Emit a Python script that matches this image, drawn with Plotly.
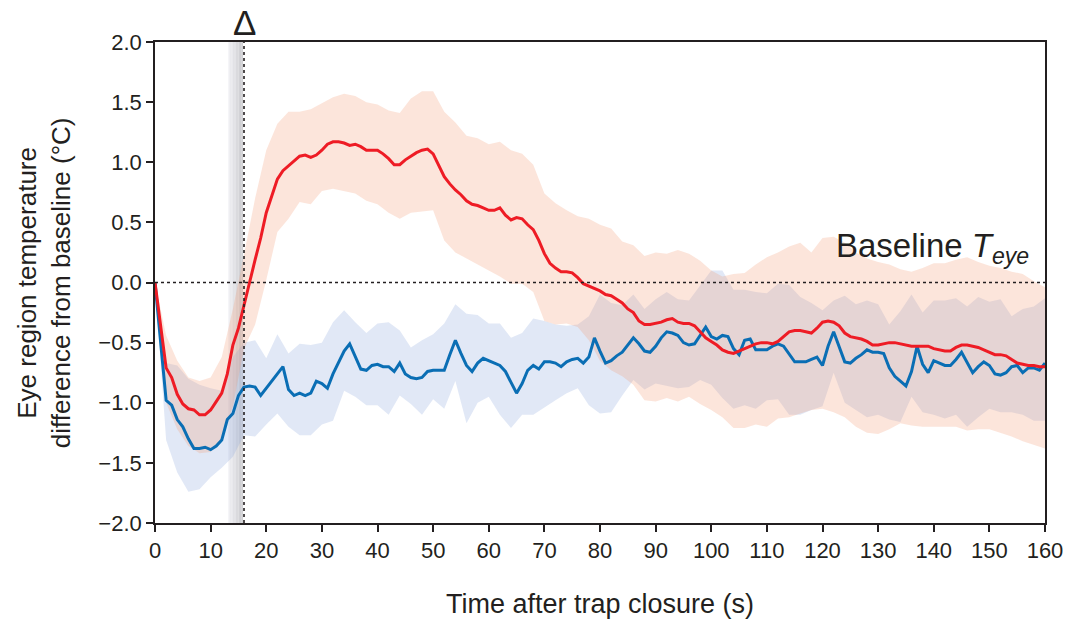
import plotly.graph_objects as go

# ---- data ----
t_line = list(range(0, 161))
red_mean = [0.00, -0.38, -0.71, -0.79, -0.93, -1.01, -1.05, -1.06, -1.10, -1.10,
            -1.06, -0.99, -0.92, -0.76, -0.52, -0.38, -0.20, 0.00, 0.19, 0.37,
            0.58, 0.72, 0.86, 0.93, 0.97, 1.01, 1.05, 1.06, 1.04, 1.06,
            1.10, 1.15, 1.17, 1.17, 1.16, 1.14, 1.15, 1.13, 1.10, 1.10,
            1.10, 1.07, 1.03, 0.98, 0.98, 1.02, 1.05, 1.08, 1.10, 1.11,
            1.07, 0.97, 0.88, 0.82, 0.77, 0.73, 0.68, 0.65, 0.64, 0.62,
            0.60, 0.60, 0.62, 0.56, 0.52, 0.54, 0.53, 0.48, 0.44, 0.35,
            0.24, 0.16, 0.12, 0.09, 0.09, 0.08, 0.04, -0.01, -0.03, -0.05,
            -0.07, -0.10, -0.11, -0.14, -0.17, -0.22, -0.25, -0.32, -0.35, -0.35,
            -0.34, -0.33, -0.31, -0.30, -0.33, -0.34, -0.34, -0.36, -0.41, -0.46,
            -0.49, -0.52, -0.56, -0.58, -0.59, -0.57, -0.55, -0.53, -0.51, -0.50,
            -0.50, -0.51, -0.49, -0.45, -0.41, -0.40, -0.40, -0.41, -0.42, -0.38,
            -0.33, -0.32, -0.33, -0.36, -0.42, -0.45, -0.46, -0.47, -0.49, -0.52,
            -0.52, -0.51, -0.50, -0.50, -0.51, -0.52, -0.53, -0.53, -0.53, -0.53,
            -0.55, -0.56, -0.57, -0.57, -0.54, -0.52, -0.52, -0.53, -0.54, -0.56,
            -0.58, -0.60, -0.60, -0.61, -0.64, -0.67, -0.68, -0.69, -0.69, -0.70,
            -0.70]
blue_mean = [0.00, -0.52, -0.98, -1.02, -1.14, -1.20, -1.30, -1.38, -1.38, -1.37,
             -1.39, -1.36, -1.31, -1.14, -1.09, -0.94, -0.87, -0.86, -0.87, -0.94,
             -0.88, -0.83, -0.77, -0.70, -0.89, -0.94, -0.92, -0.94, -0.92, -0.82,
             -0.84, -0.88, -0.76, -0.67, -0.57, -0.51, -0.62, -0.72, -0.73, -0.69,
             -0.68, -0.70, -0.70, -0.74, -0.67, -0.76, -0.79, -0.80, -0.79, -0.74,
             -0.73, -0.73, -0.73, -0.60, -0.48, -0.59, -0.69, -0.74, -0.67, -0.63,
             -0.65, -0.67, -0.69, -0.74, -0.83, -0.92, -0.84, -0.73, -0.69, -0.72,
             -0.66, -0.66, -0.67, -0.70, -0.66, -0.64, -0.63, -0.67, -0.62, -0.46,
             -0.57, -0.67, -0.65, -0.61, -0.58, -0.52, -0.46, -0.51, -0.57, -0.58,
             -0.53, -0.46, -0.41, -0.42, -0.44, -0.50, -0.52, -0.51, -0.44, -0.37,
             -0.45, -0.47, -0.44, -0.45, -0.55, -0.60, -0.48, -0.47, -0.56, -0.56,
             -0.56, -0.53, -0.51, -0.53, -0.60, -0.66, -0.66, -0.66, -0.64, -0.62,
             -0.69, -0.53, -0.41, -0.53, -0.66, -0.67, -0.63, -0.60, -0.56, -0.58,
             -0.58, -0.59, -0.71, -0.78, -0.82, -0.86, -0.74, -0.53, -0.68, -0.75,
             -0.65, -0.67, -0.69, -0.69, -0.64, -0.58, -0.67, -0.75, -0.70, -0.66,
             -0.69, -0.76, -0.77, -0.75, -0.70, -0.69, -0.75, -0.71, -0.71, -0.73,
             -0.67]

t_band = list(range(0, 161, 2))
red_upper = [0.00, -0.44, -0.65, -0.79, -0.82, -0.79, -0.62, -0.22, 0.23, 0.70,
             1.10, 1.32, 1.42, 1.42, 1.44, 1.49, 1.54, 1.57, 1.55, 1.50,
             1.48, 1.43, 1.41, 1.53, 1.59, 1.59, 1.42, 1.33, 1.22, 1.20,
             1.15, 1.17, 1.10, 1.07, 0.98, 0.74, 0.66, 0.60, 0.55, 0.53,
             0.48, 0.45, 0.34, 0.31, 0.22, 0.25, 0.24, 0.27, 0.24, 0.18,
             0.10, 0.05, 0.07, 0.08, 0.15, 0.21, 0.25, 0.30, 0.33, 0.25,
             0.37, 0.38, 0.33, 0.25, 0.20, 0.17, 0.15, 0.11, 0.09, 0.12,
             0.16, 0.16, 0.19, 0.21, 0.17, 0.14, 0.12, 0.09, 0.07, 0.01,
             -0.04]
red_lower = [0.00, -1.00, -1.22, -1.36, -1.42, -1.41, -1.30, -1.03, -0.55, -0.35,
             0.02, 0.42, 0.53, 0.67, 0.65, 0.76, 0.78, 0.76, 0.74, 0.68,
             0.65, 0.58, 0.53, 0.58, 0.59, 0.60, 0.35, 0.25, 0.20, 0.15,
             0.10, 0.05, -0.01, -0.01, -0.08, -0.32, -0.35, -0.34, -0.37, -0.48,
             -0.65, -0.73, -0.78, -0.85, -0.98, -0.99, -0.96, -0.99, -0.95, -1.01,
             -1.06, -1.12, -1.21, -1.21, -1.18, -1.20, -1.13, -1.12, -1.09, -1.06,
             -1.05, -1.08, -1.12, -1.20, -1.25, -1.26, -1.22, -1.17, -1.19, -1.20,
             -1.20, -1.20, -1.20, -1.23, -1.22, -1.22, -1.25, -1.28, -1.32, -1.35,
             -1.38]
blue_upper = [0.00, -0.67, -0.69, -0.80, -0.85, -0.88, -0.90, -0.62, -0.50, -0.48,
              -0.63, -0.43, -0.59, -0.51, -0.52, -0.50, -0.33, -0.23, -0.33, -0.42,
              -0.34, -0.33, -0.40, -0.54, -0.48, -0.43, -0.34, -0.18, -0.26, -0.27,
              -0.34, -0.34, -0.46, -0.42, -0.30, -0.32, -0.35, -0.36, -0.35, -0.28,
              -0.10, -0.17, -0.19, -0.10, -0.22, -0.14, -0.08, -0.14, -0.15, -0.03,
              0.10, 0.10, -0.06, -0.06, -0.08, -0.09, -0.01, -0.02, -0.12, -0.17,
              -0.23, -0.15, -0.11, -0.18, -0.15, -0.18, -0.35, -0.24, -0.10, -0.25,
              -0.15, -0.15, -0.13, -0.20, -0.12, -0.16, -0.14, -0.28, -0.22, -0.20,
              -0.13]
blue_lower = [0.00, -1.31, -1.58, -1.74, -1.72, -1.62, -1.54, -1.45, -1.27, -1.28,
              -1.18, -1.09, -1.20, -1.27, -1.27, -1.18, -1.15, -0.90, -0.95, -1.02,
              -1.02, -1.10, -0.94, -1.01, -1.10, -0.97, -1.05, -0.82, -1.17, -1.00,
              -0.95, -1.10, -1.21, -1.10, -1.10, -1.04, -0.98, -0.92, -0.88, -1.02,
              -1.09, -1.08, -0.94, -0.81, -0.89, -0.84, -0.86, -0.88, -0.87, -0.81,
              -0.85, -0.96, -1.05, -1.02, -1.05, -0.98, -0.97, -1.10, -1.10, -1.06,
              -1.03, -0.75, -1.00, -1.06, -1.12, -1.10, -1.14, -1.16, -0.95, -1.08,
              -1.10, -1.13, -1.10, -1.20, -1.12, -1.05, -1.08, -1.08, -1.10, -1.15,
              -1.15]

x_ticks = list(range(0, 161, 10))
y_ticks = [-2.0, -1.5, -1.0, -0.5, 0.0, 0.5, 1.0, 1.5, 2.0]
y_tick_labels = ["\u22122.0", "\u22121.5", "\u22121.0", "\u22120.5", "0.0", "0.5", "1.0", "1.5", "2.0"]
trap_time = 16
shade_start, shade_end = 13.2, 15.8

FONT = "Liberation Sans, Arial, Helvetica, sans-serif"
INK = "#231f20"
RED = "#ee1c25"
BLUE = "#0a6eb4"

fig = go.Figure()

# bands
fig.add_trace(go.Scatter(x=t_band + t_band[::-1], y=blue_upper + blue_lower[::-1],
                         fill="toself", fillcolor="rgba(135,165,218,0.25)",
                         line=dict(width=0), mode="lines", hoverinfo="skip", showlegend=False))
fig.add_trace(go.Scatter(x=t_band + t_band[::-1], y=red_upper + red_lower[::-1],
                         fill="toself", fillcolor="rgba(244,150,112,0.25)",
                         line=dict(width=0), mode="lines", hoverinfo="skip", showlegend=False))
# lines
fig.add_trace(go.Scatter(x=t_line, y=blue_mean, mode="lines",
                         line=dict(color=BLUE, width=3), showlegend=False))
fig.add_trace(go.Scatter(x=t_line, y=red_mean, mode="lines",
                         line=dict(color=RED, width=3), showlegend=False))

# gray gradient band before trap closure
n = 10
for i in range(n):
    x0 = shade_start + (shade_end - shade_start) * i / n
    x1 = shade_start + (shade_end - shade_start) * (i + 1) / n
    g = int(242 - 40 * (i + 1) / n)
    fig.add_shape(type="rect", xref="x", yref="y", x0=x0, x1=x1, y0=-2, y1=2,
                  fillcolor=f"rgb({g},{g},{g + 4})", line=dict(width=0), layer="below")

# dotted reference lines
fig.add_shape(type="line", xref="x", yref="y", x0=0, x1=160, y0=0, y1=0,
              line=dict(color=INK, width=1.6, dash="dot"))
fig.add_shape(type="line", xref="x", yref="y", x0=trap_time, x1=trap_time, y0=-2, y1=2,
              line=dict(color=INK, width=1.6, dash="dot"))

fig.add_annotation(x=trap_time, y=1, xref="x", yref="paper", text="\u0394",
                   showarrow=False, yanchor="bottom", yshift=-2,
                   font=dict(family=FONT, size=35, color=INK))
fig.add_annotation(x=122.0, y=0.29, xref="x", yref="y",
                   text="Baseline <i>T</i><sub><i>eye</i></sub>",
                   showarrow=False, xanchor="left", yanchor="middle",
                   font=dict(family=FONT, size=33, color=INK))

fig.add_annotation(x=0.5, y=0, xref="paper", yref="paper", yshift=-81,
                   text="Time after trap closure (s)", showarrow=False,
                   yanchor="middle", font=dict(family=FONT, size=27, color=INK))
fig.add_annotation(x=-0.125, y=0.5, xref="paper", yref="paper", textangle=-90,
                   text="Eye region temperature<br>difference from baseline (\u00b0C)",
                   showarrow=False, xanchor="center", yanchor="middle",
                   font=dict(family=FONT, size=26, color=INK))

axis_common = dict(showgrid=False, zeroline=False, showline=True, linecolor=INK,
                   linewidth=1.6, mirror=True, ticks="outside", ticklen=7, tickwidth=1.6,
                   tickcolor=INK, tickfont=dict(family=FONT, size=22, color=INK))

fig.update_xaxes(range=[0, 160], tickvals=x_ticks, **axis_common)
fig.update_yaxes(range=[-2, 2], tickvals=y_ticks, ticktext=y_tick_labels, **axis_common)

fig.update_layout(width=1074, height=625, plot_bgcolor="white", paper_bgcolor="white",
                  margin=dict(l=155, r=29, t=42, b=102), showlegend=False,
                  font=dict(family=FONT))

fig.write_html("out.html", config={"displayModeBar": False},
               post_script="document.body.style.margin='0';document.body.style.padding='0';")
